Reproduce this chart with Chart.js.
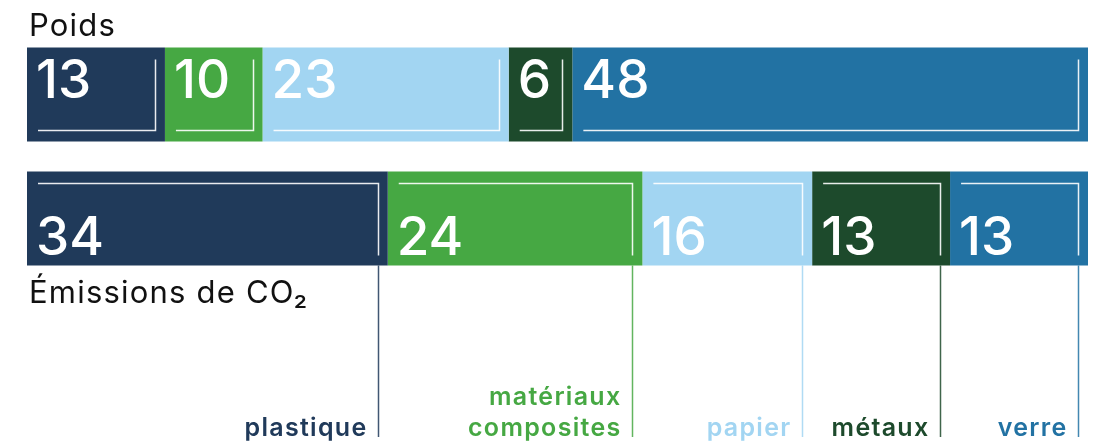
<!DOCTYPE html>
<html lang="fr">
<head>
<meta charset="utf-8">
<title>Poids et émissions de CO₂</title>
<script src="https://cdn.jsdelivr.net/npm/chart.js@4"></script>
<style>
  html, body { margin: 0; padding: 0; background: #fff; }
  canvas { display: block; }
</style>
</head>
<body>
<canvas id="chart" width="1093" height="444" data-js-chart></canvas>
<script>
// rows of the chart
const rowTitles = ['Poids', 'Émissions de CO₂'];
// materials, in stacking order
const materials = ['plastique', 'matériaux composites', 'papier', 'métaux', 'verre'];
const materialLines = [['plastique'], ['matériaux', 'composites'], ['papier'], ['métaux'], ['verre']];
const materialColors = ['#203a5a', '#46a843', '#a2d5f2', '#1d4a2c', '#2272a3'];

// shares in % (weight widths, printed numbers are rounded)
const weightShares = [13, 9.2, 23.2, 6, 48.6];
const weightLabels = ['13', '10', '23', '6', '48'];
const emissionShares = [34, 24, 16, 13, 13];
const emissionLabels = ['34', '24', '16', '13', '13'];

const numberFont = '500 53px Inter, sans-serif';
const titleFont = '400 31px Inter, sans-serif';
const materialFont = '600 25px Inter, sans-serif';

const framePlugin = {
    id: 'frames',
    afterDatasetsDraw(chart) {
        const ctx = chart.ctx;
        const labels = [weightLabels, emissionLabels];
        ctx.save();
        chart.data.datasets.forEach((ds, i) => {
            const meta = chart.getDatasetMeta(i);
            meta.data.forEach((bar, row) => {
                const p = bar.getProps(['x', 'y', 'base', 'height'], true);
                const left = Math.min(p.x, p.base);
                const right = Math.max(p.x, p.base);
                const top = p.y - p.height / 2;
                const bottom = p.y + p.height / 2;
                const vx = Math.round(right - 10) + 0.5;

                ctx.strokeStyle = 'rgba(255,255,255,0.9)';
                ctx.lineWidth = 1.5;
                ctx.beginPath();
                if (row === 0) {
                    const hy = Math.round(bottom - 11) + 0.5;
                    ctx.moveTo(vx, top + 12);
                    ctx.lineTo(vx, hy);
                    ctx.lineTo(left + 11, hy);
                } else {
                    const hy = Math.round(top + 11) + 0.5;
                    ctx.moveTo(left + 11, hy);
                    ctx.lineTo(vx, hy);
                    ctx.lineTo(vx, bottom - 10);
                }
                ctx.stroke();

                // big white number
                ctx.fillStyle = '#fff';
                ctx.font = numberFont;
                ctx.letterSpacing = '0px';
                ctx.textAlign = 'left';
                ctx.textBaseline = 'alphabetic';
                const baseY = row === 0 ? top + 50 : bottom - 10;
                ctx.fillText(labels[row][i], left + 9, baseY);

                // leader line and material name below the emissions row
                if (row === 1) {
                    ctx.strokeStyle = ds.backgroundColor;
                    ctx.globalAlpha = 0.85;
                    ctx.lineWidth = 1.5;
                    ctx.beginPath();
                    ctx.moveTo(vx, bottom);
                    ctx.lineTo(vx, 437);
                    ctx.stroke();
                    ctx.globalAlpha = 1;

                    ctx.fillStyle = ds.backgroundColor;
                    ctx.font = materialFont;
                    ctx.letterSpacing = '1.3px';
                    ctx.textAlign = 'right';
                    const lines = materialLines[i];
                    lines.forEach((line, k) => {
                        ctx.fillText(line, vx - 11, 436 - (lines.length - 1 - k) * 31);
                    });
                }
            });
        });

        // row titles
        const area = chart.chartArea;
        const firstMeta = chart.getDatasetMeta(0).data;
        ctx.fillStyle = '#111';
        ctx.font = titleFont;
        ctx.letterSpacing = '1.2px';
        ctx.textAlign = 'left';
        const r0 = firstMeta[0].getProps(['y', 'height'], true);
        const r1 = firstMeta[1].getProps(['y', 'height'], true);
        ctx.fillText(rowTitles[0], area.left + 2, r0.y - r0.height / 2 - 12);
        ctx.fillText(rowTitles[1], area.left + 2, r1.y + r1.height / 2 + 38);
        ctx.restore();
    }
};

class ShareChart {
    constructor(canvas) {
        this.canvas = canvas;
        if (!this.canvas) {
            return
        }
        this.init();
    }
    init() {
        const datasets = materials.map((name, i) => ({
            label: name,
            data: [weightShares[i], emissionShares[i]],
            backgroundColor: materialColors[i],
            borderWidth: 0,
            categoryPercentage: 0.758,
            barPercentage: 1
        }));
        new Chart(this.canvas, {
            type: 'bar',
            data: { labels: rowTitles, datasets: datasets },
            options: {
                indexAxis: 'y',
                responsive: false,
                animation: false,
                devicePixelRatio: 1,
                layout: { padding: { top: 32.5, bottom: 163.5, left: 27, right: 5 } },
                plugins: { legend: { display: false }, tooltip: { enabled: false } },
                scales: {
                    x: { stacked: true, min: 0, max: 100, display: false },
                    y: { stacked: true, display: false }
                }
            },
            plugins: [framePlugin]
        });
    }
}

document.addEventListener('DOMContentLoaded', () => {
    new ShareChart(document.querySelector('[data-js-chart]'));
});
</script>
</body>
</html>
